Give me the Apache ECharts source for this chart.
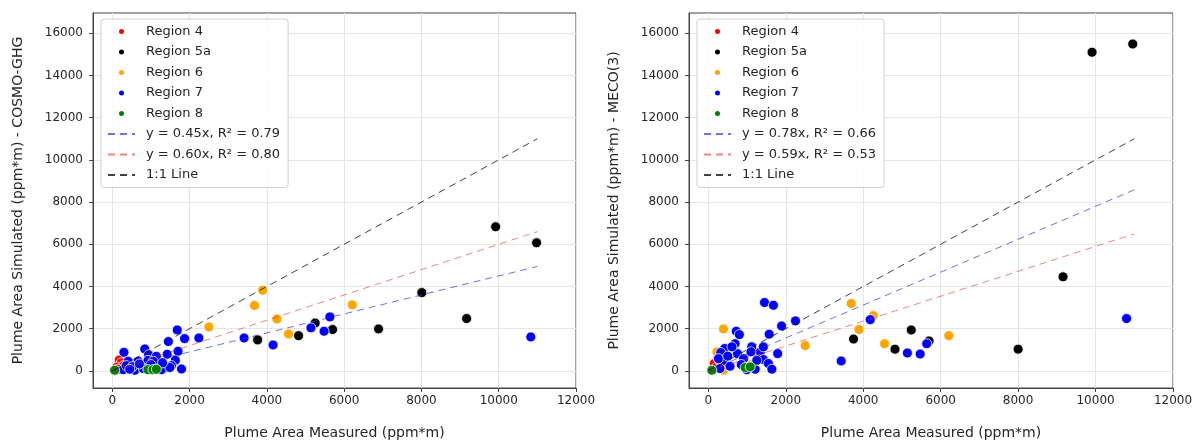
<!DOCTYPE html>
<html>
<head>
<meta charset="utf-8">
<title>Plume area simulated vs measured</title>
<script src="https://cdn.jsdelivr.net/npm/echarts@6/dist/echarts.min.js"></script>
<style>
  html, body { margin: 0; padding: 0; background: #fff; }
  #chart { width: 1199px; height: 441px; }
</style>
</head>
<body>
<div id="chart"></div>
<script>
// tick labels
const xTicks = [0, 2000, 4000, 6000, 8000, 10000, 12000]
const yTicks = [0, 2000, 4000, 6000, 8000, 10000, 12000, 14000, 16000]

const regionNames = ['Region 4', 'Region 5a', 'Region 6', 'Region 7', 'Region 8']
const regionColors = ['#ff0000', '#000000', '#ffa500', '#0000ff', '#008000']

// left panel: measured vs COSMO-GHG, [measured, simulated]
const cosmoRegion4 = [[180, 520], [230, 380], [120, 180], [300, 260], [150, 80]]
const cosmoRegion5a = [
  [9920, 6830], [10980, 6070], [8010, 3710], [9170, 2480], [6890, 1990],
  [5250, 2270], [5700, 1960], [4820, 1670], [3760, 1470]
]
const cosmoRegion6 = [
  [3890, 3820], [3680, 3100], [6210, 3130], [4260, 2460], [4560, 1750],
  [2500, 2080], [1240, 440], [1150, 250]
]
const cosmoRegion7 = [
  [10830, 1610], [5630, 2560], [5140, 2040], [5480, 1880], [4160, 1230],
  [3410, 1560], [2240, 1560], [1680, 1940], [1870, 1530], [1450, 1390],
  [840, 1040], [300, 880], [940, 760], [1140, 690], [1420, 790],
  [1700, 930], [1630, 500], [1530, 250], [1790, 90], [1400, 160],
  [1180, 110], [410, 455], [670, 455], [925, 500], [1060, 460],
  [280, 60], [580, 30], [800, 110], [1270, 60], [1490, 160],
  [360, 250], [520, 200], [700, 330], [1000, 300], [1300, 380], [450, 80]
]
const cosmoRegion8 = [[60, 30], [920, 60], [1050, 60], [1140, 80]]

// right panel: measured vs MECO(3)
const mecoRegion4 = [[150, 350], [250, 600], [200, 150], [320, 420]]
const mecoRegion5a = [
  [9910, 15100], [10960, 15490], [9160, 4460], [8000, 1030], [5240, 1940],
  [5700, 1420], [4820, 1030], [3750, 1510]
]
const mecoRegion6 = [
  [3690, 3190], [4260, 2620], [3890, 1960], [6210, 1670], [4550, 1290],
  [2500, 1200], [390, 1990], [220, 900], [390, 30], [1120, 300]
]
const mecoRegion7 = [
  [10800, 2480], [5640, 1290], [5470, 800], [5140, 850], [4180, 2430],
  [3430, 470], [1450, 3240], [1680, 3110], [2250, 2370], [1890, 2130],
  [1570, 1740], [1790, 820], [720, 1880], [800, 1720], [690, 1290],
  [420, 1060], [320, 870], [1120, 1140], [1340, 900], [1420, 1140],
  [750, 820], [610, 1140], [390, 500], [1420, 540], [1550, 350],
  [1640, 80], [910, 580], [560, 220], [300, 110], [1210, 80],
  [990, 60], [260, 580], [1100, 900], [500, 700], [850, 300], [1250, 500]
]
const mecoRegion8 = [[90, 30], [950, 160], [1080, 190]]

// fit / reference line endpoints
const cosmoFitLabels = ['y = 0.45x, R\u00b2 = 0.79', 'y = 0.60x, R\u00b2 = 0.80']
const cosmoFitBlue = [[0, 0], [11000, 4950]]
const cosmoFitRed = [[0, 0], [11000, 6600]]
const mecoFitLabels = ['y = 0.78x, R\u00b2 = 0.66', 'y = 0.59x, R\u00b2 = 0.53']
const mecoFitBlue = [[0, 0], [11000, 8580]]
const mecoFitRed = [[0, 0], [11000, 6490]]
const oneToOne = [[0, 0], [11000, 11000]]

const fontFamily = 'DejaVu Sans'
const textColor = '#262626'
const plain = (v) => String(v)

const makeXAxis = (gridIndex) => ({
  type: 'value',
  gridIndex,
  min: -500,
  max: 12000,
  name: 'Plume Area Measured (ppm*m)',
  nameLocation: 'middle',
  nameGap: 38,
  nameTextStyle: { fontFamily, fontSize: 14, color: textColor },
  axisLine: { show: true, onZero: false, lineStyle: { color: '#444', width: 1 } },
  axisTick: { show: true, length: 4, customValues: xTicks, lineStyle: { color: '#444' } },
  axisLabel: { customValues: xTicks, formatter: plain, margin: 7, fontFamily, fontSize: 12, color: textColor },
  splitLine: { show: true, lineStyle: { color: '#e6e6e6', width: 1 } },
})

const makeYAxis = (gridIndex, name) => ({
  type: 'value',
  gridIndex,
  min: -810,
  max: 16960,
  name,
  nameLocation: 'middle',
  nameGap: 68,
  nameTextStyle: { fontFamily, fontSize: 14, color: textColor },
  axisLine: { show: true, onZero: false, lineStyle: { color: '#444', width: 1 } },
  axisTick: { show: true, length: 4, customValues: yTicks, lineStyle: { color: '#444' } },
  axisLabel: { customValues: yTicks, formatter: plain, margin: 10, fontFamily, fontSize: 12, color: textColor },
  splitLine: { show: true, lineStyle: { color: '#e6e6e6', width: 1 } },
})

const scatter = (name, data, color, idx) => ({
  name,
  type: 'scatter',
  xAxisIndex: idx,
  yAxisIndex: idx,
  data,
  symbolSize: 10,
  itemStyle: { color, opacity: 1, borderColor: '#fff', borderWidth: 0.8 },
  emphasis: { disabled: true },
  z: 2,
})

const dashLine = (name, data, color, opacity, idx) => ({
  name,
  type: 'line',
  xAxisIndex: idx,
  yAxisIndex: idx,
  data,
  symbol: 'none',
  lineStyle: { color, width: 1, type: [7, 5], opacity },
  itemStyle: { color: 'rgba(0,0,0,0)' },
  emphasis: { disabled: true },
  silent: true,
  z: 3,
})

const makeLegend = (left, fitLabels) => ({
  orient: 'vertical',
  left,
  top: 19,
  padding: [6, 8, 6, 6],
  itemWidth: 27,
  itemHeight: 7,
  itemGap: 7.5,
  backgroundColor: 'rgba(255,255,255,0.85)',
  borderColor: '#d0d0d0',
  borderWidth: 1,
  borderRadius: 3,
  textStyle: { fontFamily, fontSize: 13, color: textColor, padding: [0, 0, 0, 6] },
  data: [
    ...regionNames,
    ...[...fitLabels, '1:1 Line'].map((name) => ({ name, itemStyle: { opacity: 0 } })),
  ],
})

const leftRegions = [cosmoRegion4, cosmoRegion5a, cosmoRegion6, cosmoRegion7, cosmoRegion8]
const rightRegions = [mecoRegion4, mecoRegion5a, mecoRegion6, mecoRegion7, mecoRegion8]

const series = [
  ...leftRegions.map((d, i) => scatter(regionNames[i], d, regionColors[i], 0)),
  dashLine(cosmoFitLabels[0], cosmoFitBlue, '#3333dd', 0.7, 0),
  dashLine(cosmoFitLabels[1], cosmoFitRed, '#dd3333', 0.6, 0),
  dashLine('1:1 Line', oneToOne, '#111111', 0.8, 0),
  ...rightRegions.map((d, i) => scatter(regionNames[i], d, regionColors[i], 1)),
  dashLine(mecoFitLabels[0], mecoFitBlue, '#3333dd', 0.7, 1),
  dashLine(mecoFitLabels[1], mecoFitRed, '#dd3333', 0.6, 1),
  dashLine('1:1 Line', oneToOne, '#111111', 0.8, 1),
]

const gridBase = { top: 13, height: 375, show: true, borderColor: '#444', borderWidth: 1, outerBoundsMode: 'none', containLabel: false }

const chart = echarts.init(document.getElementById('chart'))
chart.setOption({
  animation: false,
  backgroundColor: '#fff',
  textStyle: { fontFamily },
  grid: [
    { ...gridBase, left: 93, width: 483 },
    { ...gridBase, left: 689, width: 484 },
  ],
  legend: [makeLegend(101, cosmoFitLabels), makeLegend(697, mecoFitLabels)],
  xAxis: [makeXAxis(0), makeXAxis(1)],
  yAxis: [
    makeYAxis(0, 'Plume Area Simulated (ppm*m) - COSMO-GHG'),
    makeYAxis(1, 'Plume Area Simulated (ppm*m) - MECO(3)'),
  ],
  series,
})
</script>
</body>
</html>
